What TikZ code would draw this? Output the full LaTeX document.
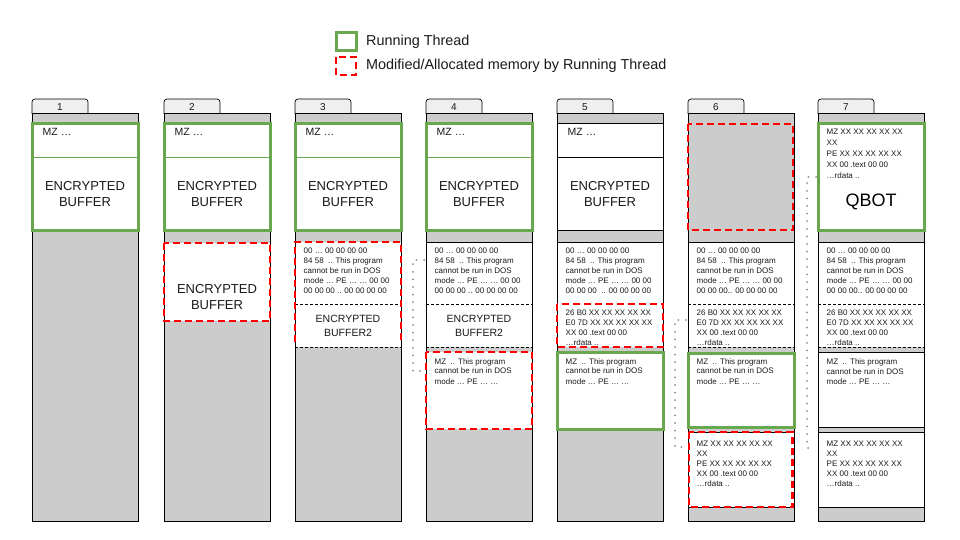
\documentclass[tikz,border=0pt]{standalone}
\usepackage{fontspec}
\setmainfont{Liberation Sans}
\definecolor{runG}{HTML}{6AA84F}
\definecolor{modR}{HTML}{FF0000}
\definecolor{memG}{HTML}{CCCCCC}
\definecolor{tabG}{HTML}{EFEFEF}
\definecolor{dotG}{HTML}{8C8C8C}
\definecolor{txt}{HTML}{1A1A1A}
\tikzset{
  tabbox/.style={fill=tabG,draw=black,line width=0.7pt,rounded corners=3pt},
  bodyline/.style={draw=black,line width=1pt},
  runbox/.style={draw=runG,line width=3pt},
  modbox/.style={draw=modR,line width=2.3pt,dash pattern=on 7pt off 4pt},
  thindash/.style={draw=black,line width=0.8pt,dash pattern=on 3pt off 2pt},
  dotcon/.style={draw=dotG,line width=2pt,line cap=round,dash pattern=on 0pt off 7.6pt},
  small/.style={font=\fontsize{8}{10}\selectfont,align=left,anchor=north west,inner sep=0pt,text=txt},
  mzlbl/.style={font=\fontsize{10.5}{12}\selectfont,anchor=west,inner sep=0pt,text=txt},
  big/.style={font=\fontsize{13}{16}\selectfont,align=center,inner sep=0pt,text=txt},
  mid/.style={font=\fontsize{10.5}{14}\selectfont,align=center,inner sep=0pt,text=txt},
  qbot/.style={font=\fontsize{18}{20}\selectfont,inner sep=0pt,text=black},
  tablbl/.style={font=\fontsize{10}{12}\selectfont,inner sep=0pt,text=txt},
  legtxt/.style={font=\fontsize{14.4}{16}\selectfont,anchor=west,inner sep=0pt,text=txt},
}
\newcommand{\colstart}[2]{%
  \fill[memG] (#1,114) rectangle ++(106,407);
  \draw[tabbox] (#1,114) -- (#1,99) -- ++(56,0) -- ++(0,15);
  \node[tablbl] (tab#2) at (#1+28,107) {#2};
}
\newcommand{\coloutline}[1]{\draw[bodyline] (#1,114) rectangle ++(106,407);}
\newcommand{\hsolid}[2]{\draw[bodyline] (#1,#2) -- ++(106,0);}
\newcommand{\hdash}[2]{\draw[thindash] (#1,#2) -- ++(106,0);}
\begin{document}
\begin{tikzpicture}[x=1pt,y=-1pt]
\useasboundingbox (0,0) rectangle (960,540);
% ---------- legend ----------
\draw[runbox] (336,33) rectangle (356,51);
\node[legtxt] (legrun) at (366,41.5) {Running Thread};
\draw[modbox] (336,57) rectangle (356,75);
\node[legtxt] (legmod) at (366,66) {Modified/Allocated memory by Running Thread};

% ---------- column 1 ----------
\colstart{32}{1}
\fill[white] (32,124) rectangle (138,230);
\coloutline{32}
\draw[runG,line width=0.8pt] (32,157) -- (138,157);
\draw[runbox] (32,124) rectangle (138,230);
\node[mzlbl] (mz1) at (42.5,132) {MZ …};
\node[big] (eb1) at (85,194) {ENCRYPTED\\BUFFER};

% ---------- column 2 ----------
\colstart{164}{2}
\fill[white] (164,124) rectangle (270,230);
\fill[white] (164,243) rectangle (270,321);
\coloutline{164}
\draw[runG,line width=0.8pt] (164,157) -- (270,157);
\draw[runbox] (164,124) rectangle (270,230);
\draw[modbox] (164,243) rectangle (270,321);
\node[mzlbl] (mz2) at (174.5,132) {MZ …};
\node[big] (eb2) at (217,194) {ENCRYPTED\\BUFFER};
\node[big] (eb2b) at (217,297) {ENCRYPTED\\BUFFER};

% ---------- column 3 ----------
\colstart{295}{3}
\fill[white] (295,124) rectangle (401,230);
\fill[white] (295,242) rectangle (401,347);
\coloutline{295}
\draw[runG,line width=0.8pt] (295,157) -- (401,157);
\hdash{295}{304}
\draw[runbox] (295,124) rectangle (401,230);
\draw[modbox] (295,342) -- (295,242) -- (401,242) -- (401,342);
\hdash{295}{347}
\node[mzlbl] (mz3) at (305.5,132) {MZ …};
\node[big] (eb3) at (348,194) {ENCRYPTED\\BUFFER};
\node[small] (d3) at (303.5,248) {00 … 00 00 00 00\\84 58\ \ .. This program\\cannot be run in DOS\\mode … PE … … 00 00\\00 00 00 .. 00 00 00 00};
\node[mid] (eb3b) at (348,326) {ENCRYPTED\\BUFFER2};

% ---------- column 4 ----------
\colstart{426}{4}
\fill[white] (426,124) rectangle (532,230);
\fill[white] (426,242) rectangle (532,347);
\fill[white] (426,352) rectangle (532,429);
\coloutline{426}
\draw[runG,line width=0.8pt] (426,157) -- (532,157);
\hsolid{426}{242}
\hdash{426}{304}
\hdash{426}{347}
\draw[runbox] (426,124) rectangle (532,230);
\draw[modbox] (426,352) rectangle (532,429);
\node[mzlbl] (mz4) at (436.5,132) {MZ …};
\node[big] (eb4) at (479,194) {ENCRYPTED\\BUFFER};
\node[small] (d4) at (434.5,248) {00 … 00 00 00 00\\84 58\ \ .. This program\\cannot be run in DOS\\mode … PE … … 00 00\\00 00 00 .. 00 00 00 00};
\node[mid] (eb4b) at (479,326) {ENCRYPTED\\BUFFER2};
\node[small] (pe4) at (434.5,358) {MZ\ \ .. This program\\cannot be run in DOS\\mode … PE … …};

% ---------- column 5 ----------
\colstart{557}{5}
\fill[white] (557,124) rectangle (663,230);
\fill[white] (557,242) rectangle (663,347);
\fill[white] (557,352) rectangle (663,429);
\coloutline{557}
\hsolid{557}{124}
\hsolid{557}{230}
\draw[black,line width=0.8pt] (557,157) -- (663,157);
\hsolid{557}{242}
\draw[modbox] (557,304) rectangle (663,347);
\draw[runbox] (557,352) rectangle (663,429);
\node[mzlbl] (mz5) at (567.5,132) {MZ …};
\node[big] (eb5) at (610,194) {ENCRYPTED\\BUFFER};
\node[small] (d5) at (565.5,248) {00 … 00 00 00 00\\84 58\ \ .. This program\\cannot be run in DOS\\mode … PE … … 00 00\\00 00 00\ \ .. 00 00 00 00};
\node[small] (h5) at (565.5,310) {26 B0 XX XX XX XX XX\\E0 7D XX XX XX XX XX\\XX 00 .text 00 00\\…rdata ..};
\node[small] (pe5) at (565.5,358) {MZ\ \ .. This program\\cannot be run in DOS\\mode … PE … …};

% ---------- column 6 ----------
\colstart{688}{6}
\fill[white] (688,242) rectangle (794,347);
\fill[white] (688,353) rectangle (794,427);
\fill[white] (688,432) rectangle (794,507);
\coloutline{688}
\hsolid{688}{242}
\hdash{688}{304}
\hdash{688}{347}
\hsolid{688}{427}
\hsolid{688}{432}
\hsolid{688}{507}
\draw[modbox] (688,124) rectangle (793,230);
\draw[runbox] (688,353) rectangle (794,427);
\draw[modbox] (689,432) rectangle (792.5,507);
\node[small] (d6) at (696.5,248) {00 … 00 00 00 00\\84 58\ \ .. This program\\cannot be run in DOS\\mode … PE … … 00 00\\00 00 00.. 00 00 00 00};
\node[small] (h6) at (696.5,310) {26 B0 XX XX XX XX XX\\E0 7D XX XX XX XX XX\\XX 00 .text 00 00\\…rdata ..};
\node[small] (pe6) at (696.5,358) {MZ\ \ .. This program\\cannot be run in DOS\\mode … PE … …};
\node[small] (q6) at (696.5,441) {MZ XX XX XX XX XX\\XX\\PE XX XX XX XX XX\\XX 00 .text 00 00\\…rdata ..};

% ---------- column 7 ----------
\colstart{818}{7}
\fill[white] (818,124) rectangle (924,230);
\fill[white] (818,242) rectangle (924,347);
\fill[white] (818,352) rectangle (924,427);
\fill[white] (818,432) rectangle (924,507);
\coloutline{818}
\hsolid{818}{242}
\hdash{818}{304}
\hdash{818}{347}
\hsolid{818}{352}
\hsolid{818}{427}
\hsolid{818}{432}
\hsolid{818}{507}
\draw[runbox] (818,124) rectangle (924,230);
\node[small,font=\fontsize{8}{11}\selectfont] (q7) at (826.5,129) {MZ XX XX XX XX XX\\XX\\PE XX XX XX XX XX\\XX 00 .text 00 00\\…rdata ..};
\node[qbot] (qbot) at (871,202) {QBOT};
\node[small] (d7) at (826.5,248) {00 … 00 00 00 00\\84 58\ \ .. This program\\cannot be run in DOS\\mode … PE … … 00 00\\00 00 00.. 00 00 00 00};
\node[small] (h7) at (826.5,310) {26 B0 XX XX XX XX XX\\E0 7D XX XX XX XX XX\\XX 00 .text 00 00\\…rdata ..};
\node[small] (pe7) at (826.5,359) {MZ\ \ .. This program\\cannot be run in DOS\\mode … PE … …};
\node[small] (q7b) at (826.5,441) {MZ XX XX XX XX XX\\XX\\PE XX XX XX XX XX\\XX 00 .text 00 00\\…rdata ..};

% ---------- dotted connectors ----------
\coordinate (c4a) at (424,260);
\coordinate (c4b) at (422,371);
\draw[dotcon] (c4a) -- ++(-11,0) |- (c4b);
\coordinate (c6a) at (686,320);
\coordinate (c6b) at (684,447);
\draw[dotcon] (c6a) -- ++(-11,0) |- (c6b);
\coordinate (c7a) at (816,177);
\coordinate (c7b) at (815,448);
\draw[dotcon] (c7a) -- ++(-9,0) |- (c7b);
\end{tikzpicture}
\end{document}
